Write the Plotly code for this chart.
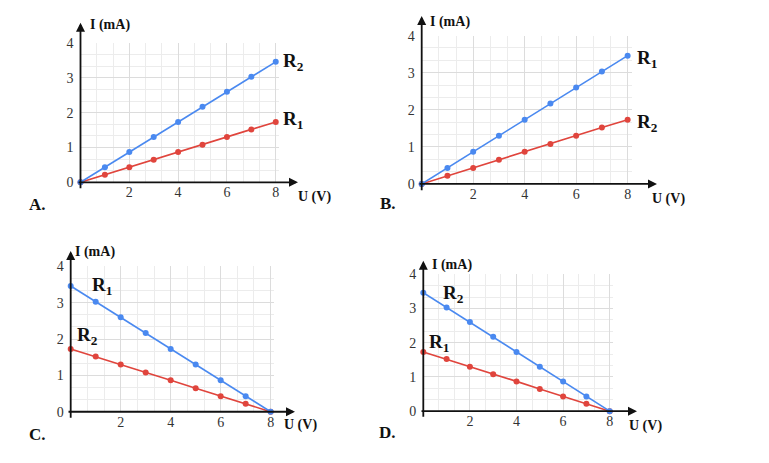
import plotly.graph_objects as go
import numpy as np

W, H = 769, 463
OFF = 8  # domyslny margines strony w przegladarce

# dane: napiecie U (V) i prad I (mA)
u = [0, 1, 2, 3, 4, 5, 6, 7, 8]
i_duzy = [0, 0.43, 0.87, 1.30, 1.73, 2.17, 2.60, 3.03, 3.46]
i_maly = [0, 0.22, 0.43, 0.65, 0.87, 1.08, 1.30, 1.52, 1.73]
i_duzy_malejacy = [3.46, 3.03, 2.60, 2.17, 1.73, 1.30, 0.87, 0.43, 0]
i_maly_malejacy = [1.73, 1.52, 1.30, 1.08, 0.87, 0.65, 0.43, 0.22, 0]
x_ticks = [2, 4, 6, 8]
y_ticks = [0, 1, 2, 3, 4]
panele = ["A.", "B.", "C.", "D."]
etykiety = [("R<sub>2</sub>", "R<sub>1</sub>"), ("R<sub>1</sub>", "R<sub>2</sub>"),
            ("R<sub>1</sub>", "R<sub>2</sub>"), ("R<sub>2</sub>", "R<sub>1</sub>")]
serie = [(i_duzy, i_maly), (i_duzy, i_maly),
         (i_duzy_malejacy, i_maly_malejacy), (i_duzy_malejacy, i_maly_malejacy)]

NIEBIESKI = "#4a89f0"
CZERWONY = "#e0453d"
SERIF = "Liberation Serif, Times New Roman, serif"


def px(x):
    return (x - OFF) / (W - OFF)


def py(y):
    return 1 - (y - OFF) / (H - OFF)


# polozenie paneli w pikselach: poczatek ukladu, koniec siatki, groty strzalek, napisy
uklad = [
    dict(o=(80.5, 181), r=279.4, t=37, xt=298, yt=16, x_start=77,
         lab=[(293, 57), (293, 117)], I=(88, 18), U=(296, 196), P=(27, 204)),
    dict(o=(421.7, 182.7), r=631.5, t=29.3, xt=657, yt=9, x_start=418,
         lab=[(647, 53), (647, 120)], I=(428, 15), U=(650, 198), P=(378, 203)),
    dict(o=(70.7, 418.3), r=274.4, t=268, xt=295, yt=252, x_start=67,
         lab=[(102, 288), (87, 340)], I=(73, 253), U=(282, 432), P=(27, 442)),
    dict(o=(423.3, 417.7), r=613.2, t=276, xt=637, yt=262, x_start=420,
         lab=[(453, 297), (439, 347)], I=(430, 267), U=(627, 433), P=(377, 440)),
]

fig = go.Figure()
annotations = []

for k, cfg in enumerate(uklad):
    n = "" if k == 0 else str(k + 1)
    ox, oy = cfg["o"]
    niebieska, czerwona = serie[k]
    fig.add_trace(go.Scatter(x=u, y=czerwona, mode="lines+markers", xaxis="x" + n, yaxis="y" + n,
                             line=dict(color=CZERWONY, width=1.6), marker=dict(size=6, color=CZERWONY),
                             showlegend=False, cliponaxis=False))
    fig.add_trace(go.Scatter(x=u, y=niebieska, mode="lines+markers", xaxis="x" + n, yaxis="y" + n,
                             line=dict(color=NIEBIESKI, width=1.6), marker=dict(size=6, color=NIEBIESKI),
                             showlegend=False, cliponaxis=False))

    fig.layout["xaxis" + n] = dict(
        domain=[px(ox), px(cfg["r"])], range=[0, 8.15], anchor="y" + n,
        tickvals=x_ticks, ticks="", showline=False, zeroline=False,
        showgrid=True, gridcolor="#dcdcdc", gridwidth=1,
        minor=dict(tickvals=list(np.arange(0, 8.2, 2 / 3)), showgrid=True, gridcolor="#ececec", gridwidth=1),
        tickfont=dict(family=SERIF, size=14, color="#333"))
    fig.layout["yaxis" + n] = dict(
        domain=[py(oy), py(cfg["t"])], range=[0, 4], anchor="x" + n,
        tickvals=y_ticks, ticks="", showline=False, zeroline=False,
        showgrid=True, gridcolor="#dcdcdc", gridwidth=1,
        minor=dict(tickvals=list(np.arange(0, 4.01, 1 / 3)), showgrid=True, gridcolor="#ececec", gridwidth=1),
        tickfont=dict(family=SERIF, size=14, color="#333"), ticklabelstandoff=6)

    # osie ze strzalkami
    annotations.append(dict(xref="paper", yref="paper", x=px(cfg["xt"]), y=py(oy),
                            axref="pixel", ayref="pixel", ax=cfg["x_start"] - cfg["xt"], ay=0,
                            text="", showarrow=True, arrowhead=2, arrowsize=1, arrowwidth=1.8,
                            arrowcolor="#111", standoff=0))
    annotations.append(dict(xref="paper", yref="paper", x=px(ox), y=py(cfg["yt"]),
                            axref="pixel", ayref="pixel", ax=0, ay=oy + 2 - cfg["yt"],
                            text="", showarrow=True, arrowhead=2, arrowsize=1, arrowwidth=1.8,
                            arrowcolor="#111", standoff=0))

    # napisy
    for (lx, ly), txt in zip(cfg["lab"], etykiety[k]):
        annotations.append(dict(xref="paper", yref="paper", x=px(lx), y=py(ly), text="<b>" + txt + "</b>",
                                xanchor="center", yanchor="middle", showarrow=False,
                                font=dict(family=SERIF, size=19, color="#111")))
    annotations.append(dict(xref="paper", yref="paper", x=px(cfg["I"][0]), y=py(cfg["I"][1]),
                            xanchor="left", yanchor="middle", text="<b>I (mA)</b>", showarrow=False,
                            font=dict(family=SERIF, size=14, color="#111")))
    annotations.append(dict(xref="paper", yref="paper", x=px(cfg["U"][0]), y=py(cfg["U"][1]),
                            xanchor="left", yanchor="middle", text="<b>U (V)</b>", showarrow=False,
                            font=dict(family=SERIF, size=14, color="#111")))
    annotations.append(dict(xref="paper", yref="paper", x=px(cfg["P"][0]), y=py(cfg["P"][1]),
                            xanchor="left", yanchor="middle", text="<b>" + panele[k] + "</b>", showarrow=False,
                            font=dict(family=SERIF, size=17, color="#111")))

fig.update_layout(
    width=W - OFF,
    height=H - OFF,
    margin=dict(l=0, r=0, t=0, b=0),
    plot_bgcolor="white",
    paper_bgcolor="white",
    annotations=annotations,
)

fig.write_html("out.html")
